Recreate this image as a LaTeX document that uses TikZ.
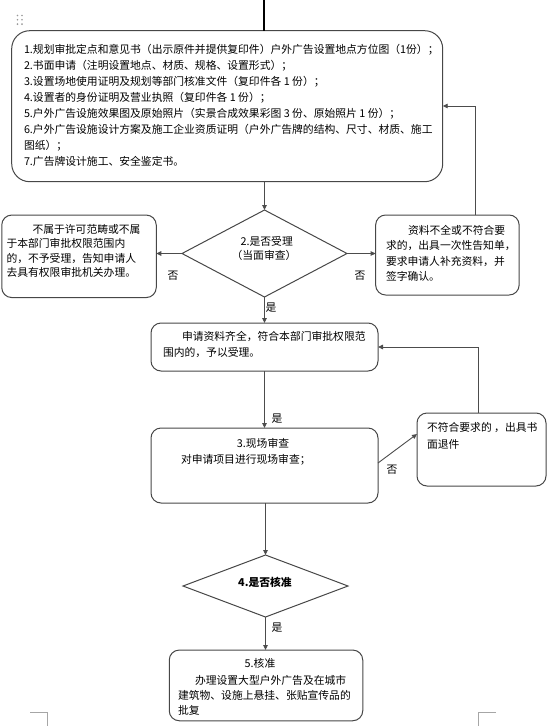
\documentclass[tikz,border=0pt]{standalone}
\usepackage{fontspec}
\setmainfont{Noto Sans CJK SC}
\usetikzlibrary{shapes.geometric,arrows.meta}
\begin{document}
\begin{tikzpicture}[x=1pt,y=-1pt,
  box/.style={draw=black!72, line width=1pt, rounded corners=10pt, inner sep=0pt, outer sep=0pt},
  dia/.style={diamond, draw=black!72, line width=1pt, inner sep=0pt, outer sep=0pt},
  txt/.style={inner sep=0pt, outer sep=0pt, align=left, anchor=north west},
  lab/.style={inner sep=0pt, outer sep=0pt, font=\fontsize{10.8}{12}\selectfont},
  arr/.style={draw=black!70, line width=0.9pt, -{Triangle[length=5pt,width=4.5pt]}},
  ln/.style={draw=black!70, line width=0.9pt},
  cornermark/.style={draw=black!35, line width=0.8pt}
]
\useasboundingbox (0,0) rectangle (554,726);

% grip dots
\foreach \i in {17.5,22}{\foreach \j in {15.5,19.8,24.1}{\fill[black!40] (\i,\j) circle (0.9);}}

% boxes
\node[box, rounded corners=18pt, minimum width=431pt, minimum height=151pt] (box1) at (227.2,106.2) {};
\node[box, minimum width=154.5pt, minimum height=82.5pt] (lbox) at (79,256.3) {};
\node[box, minimum width=143.5pt, minimum height=80pt] (rbox) at (447.4,255) {};
\node[dia, minimum width=165pt, minimum height=87pt] (d2) at (264.5,253.5) {};
\node[box, minimum width=227pt, minimum height=48pt] (box3) at (264.5,347) {};
\node[box, minimum width=227pt, minimum height=75pt] (box4) at (264.5,465.5) {};
\node[box, minimum width=129pt, minimum height=73pt] (sbox) at (481.5,449.5) {};
\node[dia, minimum width=165pt, minimum height=62pt] (d4) at (265.5,586) {};
\node[box, minimum width=193.5pt, minimum height=70.7pt] (box5) at (266,685.4) {};

% texts
\node[txt, font=\fontsize{10.8}{16}\selectfont] (t1) at (24,44) {%
1.规划审批定点和意见书（出示原件并提供复印件）户外广告设置地点方位图（1份）；\\
2.书面申请（注明设置地点、材质、规格、设置形式）；\\
3.设置场地使用证明及规划等部门核准文件（复印件各 1 份）；\\
4.设置者的身份证明及营业执照（复印件各 1 份）；\\
5.户外广告设施效果图及原始照片（实景合成效果彩图 3 份、原始照片 1 份）；\\
6.户外广告设施设计方案及施工企业资质证明（户外广告牌的结构、尺寸、材质、施工\\
图纸）；\\
7.广告牌设计施工、安全鉴定书。};

\node[txt, font=\fontsize{10.8}{14.5}\selectfont] (tl) at (6.5,224) {%
\hspace*{26pt}不属于许可范畴或不属\\
于本部门审批权限范围内\\
的，不予受理，告知申请人\\
去具有权限审批机关办理。};

\node[txt, font=\fontsize{10.8}{15.3}\selectfont] (tr) at (386,225.4) {%
\hspace*{22pt}资料不全或不符合要\\
求的，出具一次性告知单，\\
要求申请人补充资料，并\\
签字确认。};

\node[lab] (t2a) at (266.7,241.7) {2.是否受理};
\node[lab] (t2b) at (264,255) {（当面审查）};

\node[txt, font=\fontsize{10.8}{16}\selectfont] (t3) at (163,331.7) {%
\hspace*{19pt}申请资料齐全，符合本部门审批权限范\\
围内的，予以受理。};

\node[lab] (t4a) at (263,443) {3.现场审查};
\node[lab, anchor=west] (t4b) at (181,460) {对申请项目进行现场审查；};

\node[txt, font=\fontsize{10.8}{17}\selectfont] (ts) at (427,422.7) {%
不符合要求的 ，出具书\\
面退件};

\node[lab, font=\fontsize{10.8}{12}\bfseries] (t5) at (265,582) {4.是否核准};

\node[lab] (t6a) at (260,663) {5.核准};
\node[txt, font=\fontsize{10.8}{15}\selectfont] (t6b) at (178,675.7) {%
\hspace*{17pt}办理设置大型户外广告及在城市\\
建筑物、设施上悬挂、张贴宣传品的\\
批复};

% connectors
\coordinate (top) at (264,0);
\draw[draw=black, line width=1.8pt] (top) -- (top |- box1.north);
\draw[arr] (d2.north |- box1.south) -- (d2.north);
\draw[arr] (d2.west) -- (d2.west -| lbox.east);
\draw[arr] (d2.east) -- (d2.east -| rbox.west);
\coordinate (fb1) at (475,106);
\draw[arr] (rbox.north -| fb1) -- (fb1) -- (fb1 -| box1.east);
\draw[arr] (d2.south) -- (d2.south |- box3.north);
\draw[arr] (box3.south -| d2.south) -- (box4.north -| d2.south);
\coordinate (fb2) at (478,347);
\draw[arr] (sbox.north -| fb2) -- (fb2) -- (fb2 -| box3.east);
\draw[arr] ([yshift=2.5pt]box4.east) -- ([yshift=15.5pt]sbox.west);
\draw[arr] (box4.south -| d4.north) -- (d4.north);
\draw[arr] (d4.south) -- (d4.south |- box5.north);

% labels
\node[lab] (n1) at (173,276) {否};
\node[lab] (n2) at (360,276) {否};
\node[lab] (y1) at (271,308) {是};
\node[lab] (y2) at (277,419) {是};
\node[lab] (n3) at (392,470) {否};
\node[lab] (y3) at (277,628) {是};

% page corner marks
\draw[cornermark] (30,712.5) -- (47,712.5) -- (47,726);
\draw[cornermark] (496,712.5) -- (478,712.5) -- (478,726);
\end{tikzpicture}
\end{document}
